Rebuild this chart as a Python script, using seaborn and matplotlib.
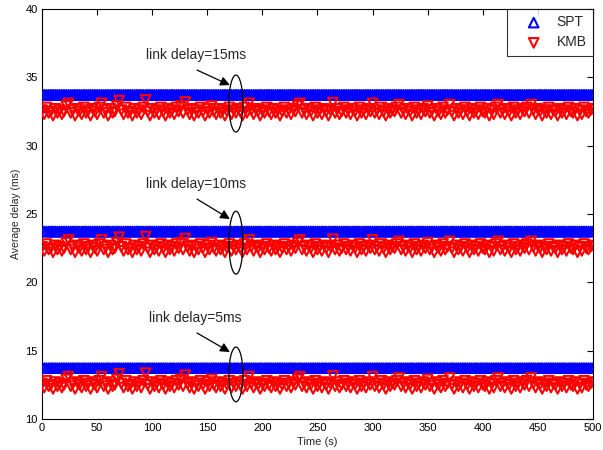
import numpy as np
import pandas as pd
import matplotlib
matplotlib.use('Agg')
import matplotlib.pyplot as plt
from matplotlib.patches import Ellipse
import seaborn as sns

# time axis, one sample every 2 s
time_s = list(range(0, 501, 2))

# SPT delay for each link delay (flat, first sample a little lower)
spt_5 = [12.8] + [13.72] * 250
spt_10 = [22.8] + [23.72] * 250
spt_15 = [32.8] + [33.72] * 250

# KMB delay, link delay = 5 ms (rows of 20 s)
kmb_5 = [12.6, 12.3, 12.8, 12.4, 12.5, 12.2, 12.7, 12.4, 12.6, 12.3,
         12.5, 12.9, 13.1, 12.4, 12.6, 12.2, 12.7, 12.5, 12.3, 12.8,
         12.4, 12.6, 12.2, 12.7, 12.5, 12.3, 12.8, 13.1, 12.4, 12.6,
         12.2, 12.7, 12.4, 12.5, 12.9, 13.3, 12.6, 12.3, 12.8, 12.4,
         12.5, 12.2, 12.7, 12.4, 12.6, 12.3, 12.8, 13.35, 12.5, 12.2,
         12.7, 12.4, 12.6, 12.3, 12.8, 12.5, 12.2, 12.7, 12.4, 12.6,
         12.3, 12.8, 12.5, 12.9, 12.4, 13.2, 12.6, 12.3, 12.7, 12.2,
         12.6, 12.4, 12.8, 12.5, 12.2, 12.7, 12.4, 12.9, 12.5, 12.3,
         12.7, 12.4, 12.6, 12.2, 12.5, 12.8, 12.3, 12.6, 12.4, 12.7,
         12.5, 12.2, 12.8, 12.4, 13.1, 12.6, 12.3, 12.7, 12.5, 12.2,
         12.6, 12.4, 12.8, 12.5, 12.3, 12.7, 12.4, 12.6, 12.2, 12.5,
         12.8, 12.4, 12.6, 12.3, 12.7, 12.5, 12.9, 13.1, 12.4, 12.6,
         12.3, 12.7, 12.5, 12.2, 12.8, 12.4, 12.6, 12.3, 12.7, 12.5,
         12.2, 12.6, 13.15, 12.4, 12.7, 12.3, 12.5, 12.8, 12.4, 12.6,
         12.3, 12.7, 12.5, 12.2, 12.8, 12.4, 12.6, 12.3, 12.7, 12.5,
         13.1, 12.4, 12.6, 12.3, 12.8, 12.5, 12.2, 12.7, 12.4, 12.6,
         12.5, 12.8, 13.0, 12.4, 12.6, 12.3, 12.7, 12.5, 12.2, 12.8,
         12.4, 12.6, 12.3, 12.7, 12.5, 12.9, 12.4, 12.6, 12.2, 12.7,
         12.5, 12.3, 12.8, 12.4, 12.6, 13.0, 12.5, 12.2, 12.7, 12.4,
         12.6, 12.3, 12.8, 12.5, 12.2, 12.7, 12.4, 12.6, 12.3, 12.8,
         12.5, 12.4, 12.7, 12.2, 12.6, 12.3, 12.8, 13.0, 12.4, 12.6,
         12.3, 12.7, 12.5, 12.2, 12.8, 12.4, 12.6, 12.3, 12.7, 12.5,
         12.8, 12.4, 13.0, 12.6, 12.3, 12.7, 12.5, 12.2, 12.6, 12.4,
         12.8, 12.3, 12.6, 12.5, 12.2, 12.7, 12.4, 12.6, 12.3, 12.8,
         12.5, 12.4, 12.7, 12.2, 12.6, 12.3, 12.8, 12.5, 12.4, 12.6,
         12.7]
# the 10 ms and 15 ms runs show the same pattern shifted up
kmb_10 = [v + 10 for v in kmb_5]
kmb_15 = [v + 20 for v in kmb_5]

link_delays = ['5ms', '10ms', '15ms']
spt_series = [spt_5, spt_10, spt_15]
kmb_series = [kmb_5, kmb_10, kmb_15]

# annotation positions (data units)
text_y = [17.39, 27.19, 36.6]
ell_y = [13.26, 22.9, 33.08]
ell_h = [4.0, 4.6, 4.17]
arrow_start_y = [16.29, 26.09, 35.53]
arrow_end_y = [14.9, 24.63, 34.43]

sns.set_style('white')
plt.rcParams['font.family'] = ['Liberation Sans', 'DejaVu Sans']

fig = plt.figure(figsize=(6.03, 4.5), dpi=100)
ax = fig.add_axes([0.0697, 0.069, 0.9135, 0.911])

for i in range(3):
    sns.scatterplot(x=time_s, y=spt_series[i], marker='^', s=48,
                    facecolors='none', edgecolor='blue', linewidth=1.5,
                    label='SPT' if i == 0 else None, ax=ax, zorder=3)
for i in range(3):
    sns.scatterplot(x=time_s, y=kmb_series[i], marker='v', s=48,
                    facecolors='none', edgecolor='red', linewidth=1.5,
                    label='KMB' if i == 0 else None, ax=ax, zorder=4)

for i in range(3):
    ax.text(139.5, text_y[i], 'link delay=' + link_delays[i],
            ha='center', va='center', fontsize=10)
    ax.add_patch(Ellipse((176, ell_y[i]), 12.7, ell_h[i], fill=False,
                         edgecolor='black', linewidth=0.9, zorder=6))
    ax.annotate('', xy=(170.5, arrow_end_y[i]), xytext=(140.7, arrow_start_y[i]),
                arrowprops=dict(arrowstyle='-|>', color='black', lw=0.9,
                                mutation_scale=14, shrinkA=0, shrinkB=0),
                zorder=6)

ax.set_xlim(0, 500)
ax.set_ylim(10, 40)
ax.set_xticks(range(0, 501, 50))
ax.set_yticks(range(10, 41, 5))
ax.tick_params(direction='in', top=True, right=True, length=4, width=0.8,
               labelsize=8, colors='black', pad=3)
for sp in ax.spines.values():
    sp.set_color('black')
    sp.set_linewidth(0.8)
ax.set_xlabel('Time (s)', fontsize=8, labelpad=3)
ax.set_ylabel('Average delay (ms)', fontsize=7.5, labelpad=3)

leg = ax.legend(loc='upper right', fontsize=10, frameon=True, fancybox=False,
                borderaxespad=0, handlelength=3.0, handletextpad=0.15,
                borderpad=0.45, labelspacing=0.45)
leg.get_frame().set_edgecolor('black')
leg.get_frame().set_linewidth(0.8)

fig.savefig('out.png', dpi=100)
